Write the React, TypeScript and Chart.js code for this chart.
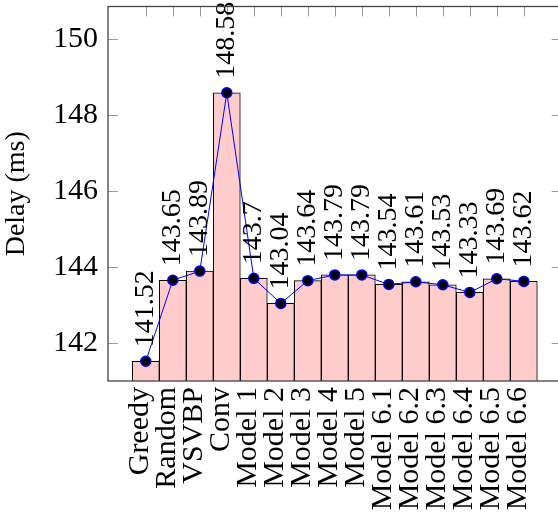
import React, { useEffect, useRef } from "react";
import { Chart, registerables } from "chart.js";

Chart.register(...registerables);

const categories = [
  "Greedy", "Random", "VSVBP", "Conv", "Model 1", "Model 2", "Model 3", "Model 4",
  "Model 5", "Model 6.1", "Model 6.2", "Model 6.3", "Model 6.4", "Model 6.5", "Model 6.6",
];
const delays = [
  141.52, 143.65, 143.89, 148.58, 143.7, 143.04, 143.64, 143.79,
  143.79, 143.54, 143.61, 143.53, 143.33, 143.69, 143.62,
];
const yTicks = [142, 144, 146, 148, 150];
const yMin = 141.0;
const yMax = 150.85;
const xMin = -1.4;
const xMax = categories.length - 1 + 1.4;

const FONT = '"Liberation Serif", "Times New Roman", serif';

const boxPlugin = {
  id: "boxTicks",
  beforeDatasetsDraw(chart: any) {
    const { ctx, chartArea: a, scales } = chart;
    ctx.save();
    ctx.strokeStyle = "#999";
    ctx.lineWidth = 1;
    ctx.beginPath();
    const tl = 10;
    yTicks.forEach((v) => {
      const y = Math.round(scales.y.getPixelForValue(v)) + 0.5;
      ctx.moveTo(a.left, y);
      ctx.lineTo(a.left + tl, y);
      ctx.moveTo(a.right, y);
      ctx.lineTo(a.right - tl, y);
    });
    categories.forEach((_, i) => {
      const x = Math.round(scales.x.getPixelForValue(i)) + 0.5;
      ctx.moveTo(x, a.top);
      ctx.lineTo(x, a.top + tl);
      ctx.moveTo(x, a.bottom);
      ctx.lineTo(x, a.bottom - tl);
    });
    ctx.stroke();
    ctx.restore();
  },
  afterDatasetsDraw(chart: any) {
    const { ctx, chartArea: a } = chart;
    const meta = chart.getDatasetMeta(1);
    ctx.save();
    ctx.fillStyle = "#000";
    ctx.font = `28px ${FONT}`;
    ctx.textAlign = "left";
    ctx.textBaseline = "middle";
    meta.data.forEach((pt: any, i: number) => {
      ctx.save();
      ctx.translate(pt.x, pt.y - 14);
      ctx.rotate(-Math.PI / 2);
      ctx.fillText(String(delays[i]), 0, 0);
      ctx.restore();
    });
    ctx.restore();
    ctx.save();
    ctx.strokeStyle = "#444";
    ctx.lineWidth = 1.3;
    ctx.strokeRect(a.left, a.top, a.right - a.left, a.bottom - a.top);
    ctx.restore();
  },
};

export default function App() {
  const ref = useRef<HTMLCanvasElement>(null);
  useEffect(() => {
    if (!ref.current) return;
    const chart = new Chart(ref.current, {
      type: "bar",
      data: {
        datasets: [
          {
            type: "bar",
            data: delays.map((v, i) => ({ x: i, y: v })),
            backgroundColor: "rgb(255,204,204)",
            borderColor: "#000",
            borderWidth: 1,
            categoryPercentage: 1,
            barPercentage: 1,
            order: 2,
          },
          {
            type: "line",
            data: delays.map((v, i) => ({ x: i, y: v })),
            borderColor: "rgb(0,0,255)",
            borderWidth: 1,
            pointBackgroundColor: "#000",
            pointBorderColor: "rgb(0,0,255)",
            pointBorderWidth: 1.5,
            pointRadius: 5,
            tension: 0,
            order: 1,
          } as any,
        ],
      },
      options: {
        responsive: false,
        animation: false,
        devicePixelRatio: 1,
        layout: { padding: { top: 4.7, right: 8.4, left: 0, bottom: 0 } },
        plugins: { legend: { display: false }, tooltip: { enabled: false } },
        scales: {
          x: {
            type: "linear",
            offset: false,
            min: xMin,
            max: xMax,
            grid: { display: false, drawTicks: false, offset: false },
            border: { display: false },
            afterBuildTicks: (s: any) => {
              s.ticks = categories.map((_, i) => ({ value: i }));
            },
            afterFit: (s: any) => {
              s.height = 137;
              s.paddingLeft = 0;
              s.paddingRight = 0;
            },
            ticks: {
              autoSkip: false,
              minRotation: 90,
              maxRotation: 90,
              padding: 6,
              labelOffset: -6,
              color: "#000",
              font: { family: FONT, size: 30 },
              callback: (v: any) => categories[v as number] ?? "",
            },
          },
          y: {
            type: "linear",
            min: yMin,
            max: yMax,
            grid: { display: false, drawTicks: false },
            border: { display: false },
            afterBuildTicks: (s: any) => {
              s.ticks = yTicks.map((v) => ({ value: v }));
            },
            afterFit: (s: any) => {
              s.width = 108;
              s.paddingTop = 0;
              s.paddingBottom = 0;
            },
            ticks: {
              padding: 10,
              color: "#000",
              font: { family: FONT, size: 30 },
            },
            title: {
              display: true,
              text: "Delay (ms)",
              color: "#000",
              font: { family: FONT, size: 28 },
              padding: { top: 0, bottom: 0 },
            },
          },
        },
      },
      plugins: [boxPlugin],
    });
    return () => chart.destroy();
  }, []);
  return (
    <div style={{ position: "fixed", left: 0, top: 0, width: 558, height: 518, overflow: "hidden", background: "#fff" }}>
      <canvas ref={ref} width={570} height={518} style={{ display: "block" }} />
    </div>
  );
}
